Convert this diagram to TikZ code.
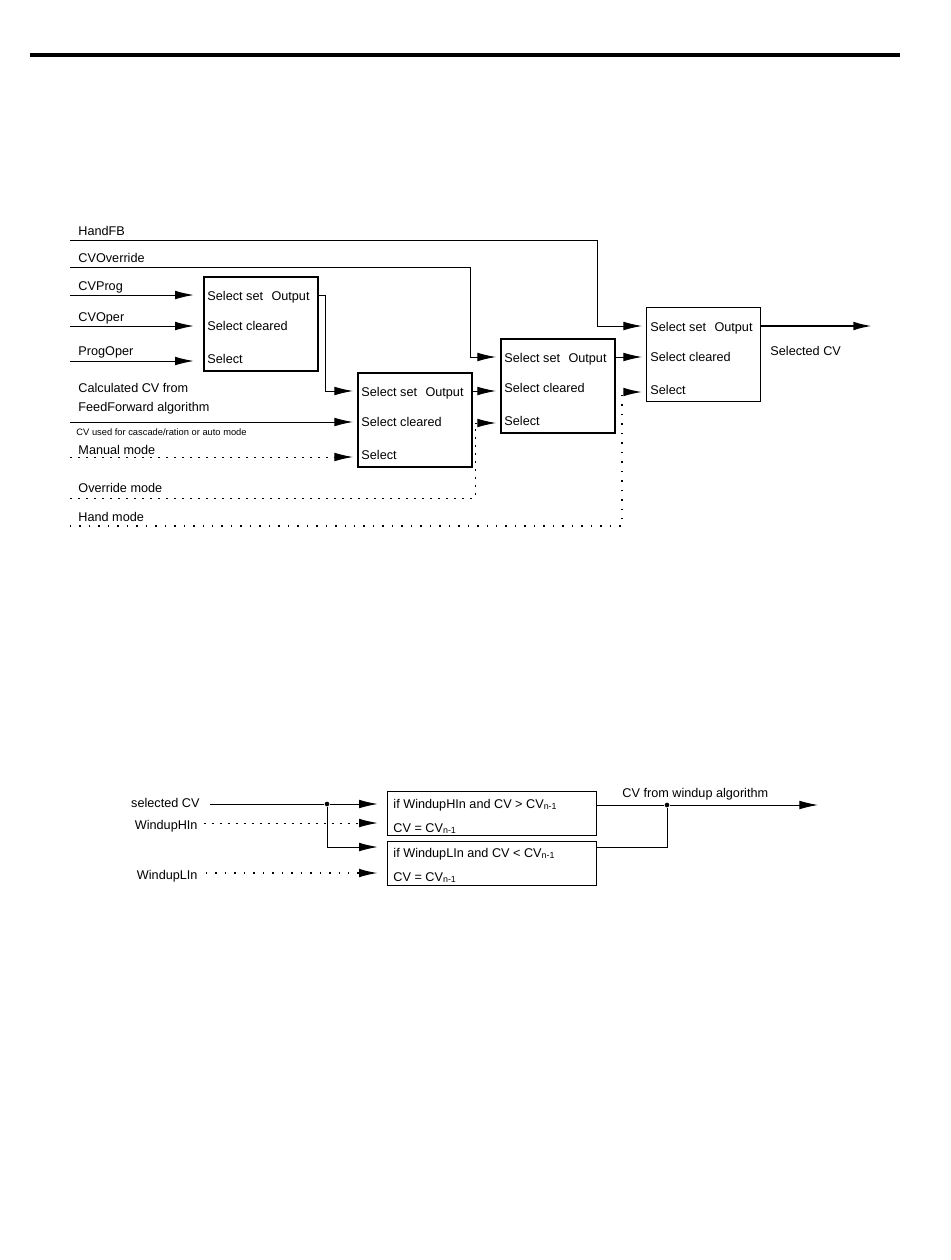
\documentclass[tikz,border=0pt]{standalone}
\usepackage{fontspec}
\setmainfont{Liberation Sans}
\usetikzlibrary{arrows.meta}
\usetikzlibrary{positioning}

\tikzset{
    sig/.style={-{Latex[length=14pt,width=6.5pt]}, shorten >=3pt},
    blk/.style={draw, minimum width=85.5pt, minimum height=70.5pt, anchor=north west, inner sep=0pt},
    wblk/.style={draw, line width=0.75pt, minimum width=156.75pt, minimum height=33pt, anchor=north west, inner sep=0pt},
    txt/.style={anchor=base west, inner sep=0pt, font=\fontsize{9.5}{11}\selectfont},
    modeline/.style={dash pattern=on 1.5pt off 4.5pt},
    handline/.style={line width=1.1pt, dash pattern=on 1.1pt off 6pt},
    jdot/.style={circle, fill, inner sep=0pt, minimum size=3.5pt},
}

\begin{document}
\begin{tikzpicture}[x=0.75pt,y=-0.75pt,line width=0.7pt]
        \useasboundingbox[fill=white] (0,0) rectangle (950,1260);
        \draw[line width=2.3pt] (30,55) -- (900,55);

        % select blocks
        \foreach \b/\x/\y/\w in {b1/203/276/1.3pt, b4/357/372/1.3pt, b2/500/338/1.5pt, b3/646/307/0.75pt} {
            \node[blk, line width=\w] (\b) at (\x,\y) {};
            \node[txt] (\b-set) at (\x+4,\y+24) {Select set};
            \node[txt, anchor=base east] (\b-out) at (\x+107,\y+24) {Output};
            \node[txt] (\b-clr) at (\x+4,\y+54) {Select cleared};
            \node[txt] (\b-sel) at (\x+4,\y+87) {Select};
            \coordinate (\b-pset) at (\x,\y+19);
            \coordinate (\b-pclr) at (\x,\y+50);
            \coordinate (\b-psel) at (\x,\y+85);
            \coordinate (\b-pout) at (\x+114,\y+19);
        }

        % inputs
        \node[txt] (handfb) at (78,235) {HandFB};
        \node[txt] (cvovr) at (78,262) {CVOverride};
        \node[txt] (cvprog) at (78,290) {CVProg};
        \node[txt] (cvoper) at (78,321) {CVOper};
        \node[txt] (progoper) at (78,355) {ProgOper};
        \node[txt] (calccv) at (78,392) {Calculated CV from};
        \node[txt] (ffalg) at (78,411) {FeedForward algorithm};
        \node[txt, font=\fontsize{7}{8}\selectfont] (cvcasc) at (76,435) {CV used for cascade/ration or auto mode};
        \node[txt] (manmode) at (78,454) {Manual mode};
        \node[txt] (ovrmode) at (78,492) {Override mode};
        \node[txt] (handmode) at (78,521) {Hand mode};

        \coordinate (handfb-in) at (70,240);
        \coordinate (cvovr-in) at (70,267);
        \coordinate (cvprog-in) at (70,295);
        \coordinate (cvoper-in) at (70,326);
        \coordinate (progoper-in) at (70,361);
        \coordinate (calccv-in) at (70,422);
        \coordinate (manmode-in) at (70,457);
        \coordinate (ovrmode-in) at (70,498);
        \coordinate (handmode-in) at (70,526);

        \draw[sig] (handfb-in) -- (597,240) |- (b3-pset);
        \draw[sig] (cvovr-in) -- (470,267) |- (b2-pset);
        \draw[sig, shorten >=7pt] (cvprog-in) -- (b1-pset);
        \draw[sig, shorten >=7pt] (cvoper-in) -- (b1-pclr);
        \draw[sig, shorten >=7pt] (progoper-in) -- (b1-psel);
        \draw[sig] (b1-pout) -- ++(8,0) |- (b4-pset);
        \draw[sig] (calccv-in) -- (b4-pclr);
        \draw[sig, modeline] (manmode-in) -- (b4-psel);
        \draw[sig, modeline] (ovrmode-in) -- (475,498) |- (b2-psel);
        \draw[sig, handline] (handmode-in) -- (622,526) |- (b3-psel);
        \draw[sig] (b4-pout) -- (b4-pout -| b2.west);
        \draw[sig] (b2-pout) -- (b2-pout -| b3.west);

        \coordinate (selcv-out) at (876,326);
        \draw[sig, line width=1.5pt] (b3-pout) -- (selcv-out);
        \node[txt] (selcv) at (770,355) {Selected CV};

        % windup
        \node[wblk] (wh) at (387,791) {};
        \node[wblk] (wl) at (387,841) {};
        \node[txt] (wh-1) at (393,808) {if WindupHIn and CV > CV\textsubscript{n-1}};
        \node[txt] (wh-2) at (393,832) {CV = CV\textsubscript{n-1}};
        \node[txt] (wl-1) at (393,857) {if WindupLIn and CV < CV\textsubscript{n-1}};
        \node[txt] (wl-2) at (393,881) {CV = CV\textsubscript{n-1}};

        \node[txt, anchor=base east] (scv) at (200,807) {selected CV};
        \node[txt, anchor=base east] (whin) at (198,829) {WindupHIn};
        \node[txt, anchor=base east] (wlin) at (198,879) {WindupLIn};
        \coordinate (scv-in) at (210,804);
        \coordinate (whin-in) at (204,823);
        \coordinate (wlin-in) at (206,873);
        \node[jdot] (j1) at (327,804) {};
        \node[jdot] (j2) at (667,805) {};

        \draw (scv-in) -- (j1);
        \draw[sig, shorten >=7pt] (j1) -- (j1 -| wh.west);
        \draw[sig, shorten >=7pt] (j1) |- (wh.west |- 0,847);
        \draw[sig, shorten >=7pt, modeline] (whin-in) -- (whin-in -| wh.west);
        \draw[sig, shorten >=7pt, handline] (wlin-in) -- (wlin-in -| wl.west);
        \draw (j2 -| wh.east) -- (j2);
        \draw (wl.east |- 0,847) -| (j2);
        \coordinate (wout) at (822,805);
        \draw[sig] (j2) -- (wout);
        \node[txt] (wlbl) at (622,797) {CV from windup algorithm};
    \end{tikzpicture}
\end{document}
